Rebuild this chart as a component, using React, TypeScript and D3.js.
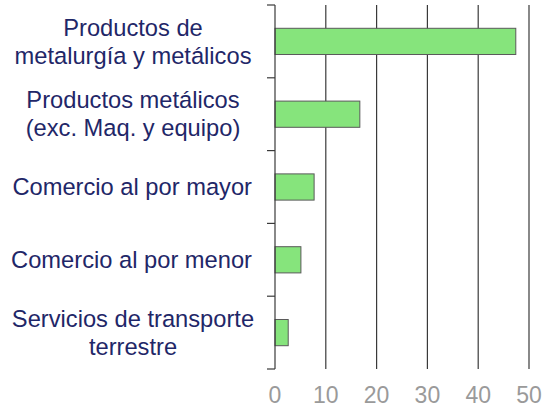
import { useEffect, useRef } from 'react';
import * as d3 from 'd3';

const categories: string[][] = [
    ['Productos de', 'metalurgía y metálicos'],
    ['Productos metálicos', '(exc. Maq. y equipo)'],
    ['Comercio al por mayor'],
    ['Comercio al por menor'],
    ['Servicios de transporte', 'terrestre'],
];
const values = [47.4, 16.7, 7.7, 5.1, 2.6];
const xTicks = [0, 10, 20, 30, 40, 50];

const App = () => {
    const svgRef = useRef<SVGSVGElement>(null);

    useEffect(() => {
        if (!svgRef.current) return;
        const svg = d3.select(svgRef.current);
        svg.selectAll('*').remove();

        const left = 275, right = 529, top = 5, bottom = 369;

        const x = d3.scaleLinear().domain([0, 50]).range([left, right]);
        const y = d3.scaleBand<number>()
            .domain(d3.range(values.length))
            .range([top, bottom])
            .paddingInner(0.64)
            .paddingOuter(0.32);

        // vertical grid lines
        svg.append('g')
            .selectAll('line')
            .data(xTicks.slice(1))
            .join('line')
            .attr('x1', d => x(d)).attr('x2', d => x(d))
            .attr('y1', top).attr('y2', bottom)
            .attr('stroke', '#3a3a3a')
            .attr('stroke-width', 1.2);

        // bars
        svg.append('g')
            .selectAll('rect')
            .data(values)
            .join('rect')
            .attr('x', x(0))
            .attr('y', (_, i) => y(i)!)
            .attr('width', d => x(d) - x(0))
            .attr('height', y.bandwidth())
            .attr('fill', '#86e47c')
            .attr('stroke', '#5a5a5a')
            .attr('stroke-width', 1);

        // category axis with ticks at band edges
        const step = y.step();
        const edges = d3.range(values.length + 1).map(i => top + i * step);
        svg.append('line')
            .attr('x1', left).attr('x2', left)
            .attr('y1', top).attr('y2', bottom)
            .attr('stroke', '#3a3a3a').attr('stroke-width', 1.2);
        svg.append('g')
            .selectAll('line')
            .data(edges)
            .join('line')
            .attr('x1', left - 8).attr('x2', left)
            .attr('y1', d => d).attr('y2', d => d)
            .attr('stroke', '#3a3a3a').attr('stroke-width', 1.2);

        // category labels
        const labels = svg.append('g')
            .attr('font-family', 'Liberation Sans, Arial, sans-serif')
            .attr('font-size', 23.7)
            .attr('fill', '#1f2768');
        categories.forEach((lines, i) => {
            const cy = y(i)! + y.bandwidth() / 2;
            const lh = 28;
            const multi = lines.length > 1;
            const t = labels.append('text')
                .attr('text-anchor', multi ? 'middle' : 'end');
            lines.forEach((l, j) => {
                t.append('tspan')
                    .attr('x', multi ? 133 : 252)
                    .attr('y', cy + (j - (lines.length - 1) / 2) * lh)
                    .attr('dy', '0.35em')
                    .text(l);
            });
        });

        // value tick labels
        svg.append('g')
            .selectAll('text')
            .data(xTicks)
            .join('text')
            .attr('x', d => x(d))
            .attr('y', 403)
            .attr('text-anchor', 'middle')
            .attr('font-family', 'Liberation Sans, Arial, sans-serif')
            .attr('font-size', 23)
            .attr('fill', '#9a9a9a')
            .text(d => d);
    }, []);

    return (
        <svg ref={svgRef} width={547} height={409}
            style={{ position: 'absolute', left: 0, top: 0, background: '#fff' }} />
    );
};

export default App;
